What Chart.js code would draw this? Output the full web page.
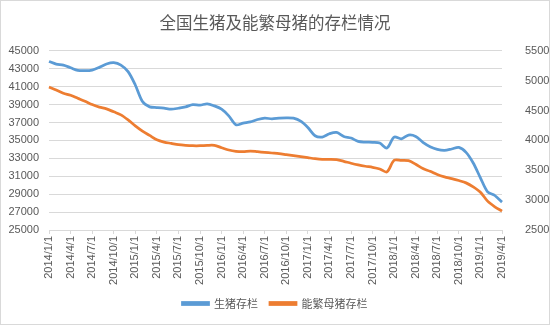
<!DOCTYPE html>
<html>
<head>
<meta charset="utf-8">
<script src="https://cdn.jsdelivr.net/npm/chart.js@4"></script>
<style>
  html, body { margin: 0; padding: 0; background: #fff; }
  #wrap { width: 550px; height: 325px; position: relative; }
</style>
</head>
<body>
<div id="wrap"><canvas id="pigChart" width="550" height="325"></canvas></div>
<script>
// monthly data, 2014/1 .. 2019/4
const years = [2014, 2015, 2016, 2017, 2018, 2019];
const months = [];
years.forEach(y => {
  for (let m = 1; m <= 12; m++) {
    if (y === 2019 && m > 4) break;
    months.push(y + '/' + m + '/1');
  }
});

// 生猪存栏 (left axis, 万头)
const hogStock = [
  43815, 43520, 43400, 43110, 42815, 42780, 42850, 43150, 43520, 43670, 43400, 42670,
  41185, 39330, 38740, 38670, 38590, 38480, 38590, 38740, 39000, 38930, 39080, 38850,
  38480, 37740, 36740, 36930, 37070, 37330, 37480, 37410, 37480, 37520, 37480, 37150,
  36440, 35520, 35370, 35740, 35890, 35440, 35260, 34890, 34810, 34780, 34700, 34150,
  35370, 35180, 35590, 35440, 34780, 34300, 34000, 33890, 34040, 34220, 33670, 32480,
  30820, 29260, 28850, 28110
];

// 能繁母猪存栏 (right axis, 万头)
const sowStock = [
  4894, 4844, 4789, 4756, 4706, 4656, 4600, 4556, 4528, 4478, 4428, 4344,
  4244, 4156, 4083, 4011, 3972, 3950, 3928, 3917, 3911, 3911, 3917, 3917,
  3878, 3839, 3817, 3811, 3822, 3811, 3800, 3789, 3778, 3761, 3744, 3728,
  3711, 3694, 3683, 3683, 3678, 3650, 3617, 3589, 3567, 3550, 3522, 3472,
  3667, 3667, 3661, 3600, 3528, 3483, 3428, 3389, 3361, 3328, 3289, 3222,
  3133, 2983, 2889, 2817
];

const textColor = '#595959';
const gridColor = '#d9d9d9';
const numFont = { family: "'Liberation Sans', Arial, sans-serif", size: 11 };
const cjkFont = "'Noto Sans CJK SC', sans-serif";

// white background + thin frame like the Excel chart
const framePlugin = {
  id: 'frame',
  beforeDraw(chart) {
    const c = chart.ctx;
    c.save();
    c.fillStyle = '#fff';
    c.fillRect(0, 0, chart.width, chart.height);
    c.strokeStyle = '#d9d9d9';
    c.lineWidth = 1;
    c.strokeRect(0.5, 0.5, chart.width - 1, chart.height - 1);
    c.restore();
  }
};

const ctx = document.getElementById('pigChart').getContext('2d');
new Chart(ctx, {
  type: 'line',
  data: {
    labels: months,
    datasets: [
      {
        label: '生猪存栏',
        data: hogStock,
        borderColor: '#5b9bd5',
        backgroundColor: '#5b9bd5',
        borderWidth: 2.75,
        pointRadius: 0,
        tension: 0.3,
        yAxisID: 'y',
      },
      {
        label: '能繁母猪存栏',
        data: sowStock,
        borderColor: '#ed7d31',
        backgroundColor: '#ed7d31',
        borderWidth: 2.75,
        pointRadius: 0,
        tension: 0.3,
        yAxisID: 'y1',
      },
    ],
  },
  plugins: [framePlugin],
  options: {
    responsive: false,
    animation: false,
    devicePixelRatio: 1,
    layout: { padding: { top: 8, left: 0, right: 0, bottom: 6 } },
    plugins: {
      title: {
        display: true,
        text: '全国生猪及能繁母猪的存栏情况',
        color: textColor,
        font: { family: cjkFont, size: 16.5, weight: 'normal' },
        padding: { top: 5, bottom: 18 },
      },
      legend: {
        position: 'bottom',
        labels: {
          color: textColor,
          font: { family: cjkFont, size: 11 },
          boxWidth: 26,
          boxHeight: 2,
          padding: 12,
        },
      },
      tooltip: { enabled: false },
    },
    scales: {
      x: {
        offset: false,
        grid: {
          drawOnChartArea: false,
          drawTicks: true,
          tickLength: 4,
          color: gridColor,
        },
        border: { color: gridColor },
        ticks: {
          autoSkip: false,
          minRotation: 90,
          maxRotation: 90,
          color: textColor,
          font: numFont,
          padding: 2,
          callback(v, i) { return i % 3 === 0 ? this.getLabelForValue(v) : null; },
        },
        afterFit(s) { s.height = 56; },
      },
      y: {
        position: 'left',
        min: 25000,
        max: 45000,
        grid: { color: gridColor, drawTicks: false },
        border: { display: false },
        ticks: { stepSize: 2000, color: textColor, font: numFont, padding: 10, callback: v => String(v) },
        afterFit(s) { s.width = 49; },
      },
      y1: {
        position: 'right',
        min: 2500,
        max: 5500,
        grid: { display: false },
        border: { display: false },
        ticks: { stepSize: 500, color: textColor, font: numFont, padding: 15, callback: v => String(v) },
        afterFit(s) { s.width = 48; },
      },
    },
  },
});
</script>
</body>
</html>
